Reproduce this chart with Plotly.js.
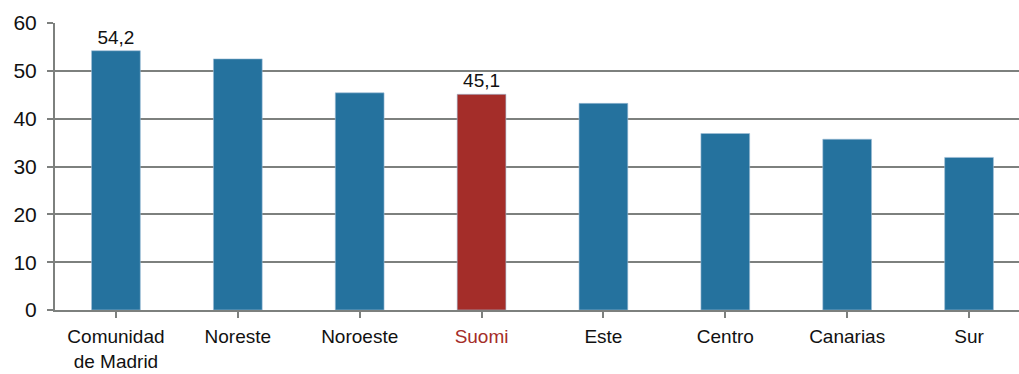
<!DOCTYPE html>
<html>
<head>
<meta charset="utf-8">
<script src="https://cdn.plot.ly/plotly-3.0.1.min.js"></script>
<style>html,body{margin:0;padding:0;background:#fff;}#chart{width:1019px;height:374px;}</style>
</head>
<body>
<div id="chart"></div>
<script>
const categories = ["Comunidad<br>de Madrid", "Noreste", "Noroeste", "Suomi", "Este", "Centro", "Canarias", "Sur"];
const values = [54.2, 52.5, 45.4, 45.1, 43.2, 36.9, 35.7, 31.9];
const labelShown = [true, false, false, true, false, false, false, false];
const highlight = "Suomi";
const yTicks = [0, 10, 20, 30, 40, 50, 60];

const blue = "#25729e", red = "#a42d29";
const x = categories.map((c, i) => i);
const colors = categories.map(c => c === highlight ? red : blue);
const texts = values.map((v, i) => labelShown[i] ? v.toFixed(1).replace(".", ",") : "");
const tickText = categories.map(c => c === highlight ? '<span style="color:' + red + '">' + c + '</span>' : c);

Plotly.newPlot("chart", [{
  type: "bar",
  x: x,
  y: values,
  marker: {color: colors, line: {color: "rgba(160,190,215,0.6)", width: 1}},
  text: texts,
  textposition: "outside",
  cliponaxis: false,
  textfont: {family: "Liberation Sans, Arial, sans-serif", size: 19, color: "#111"},
  hoverinfo: "none"
}], {
  width: 1019, height: 374,
  margin: {l: 55, r: 0, t: 23, b: 64},
  paper_bgcolor: "#fff", plot_bgcolor: "#fff",
  bargap: 0.6,
  showlegend: false,
  font: {family: "Liberation Sans, Arial, sans-serif", size: 19, color: "#111"},
  xaxis: {
    range: [-0.5, 7.41],
    tickvals: x, ticktext: tickText,
    tickson: "boundaries",
    ticks: "outside", ticklen: 6, tickwidth: 2, tickcolor: "#7d807e",
    ticklabelstandoff: 2,
    showline: true, linecolor: "#7d807e", linewidth: 2,
    showgrid: false, zeroline: false,
    tickfont: {size: 19, color: "#111"}
  },
  yaxis: {
    range: [0, 60],
    tickvals: yTicks,
    ticks: "outside", ticklen: 6, tickwidth: 2, tickcolor: "#7d807e",
    ticklabelstandoff: 6,
    showline: true, linecolor: "#7d807e", linewidth: 2,
    showgrid: true, gridcolor: "#7d807e", gridwidth: 2,
    zeroline: false,
    tickfont: {size: 21, color: "#111"}
  }
}, {displayModeBar: false, staticPlot: true});
</script>
</body>
</html>
